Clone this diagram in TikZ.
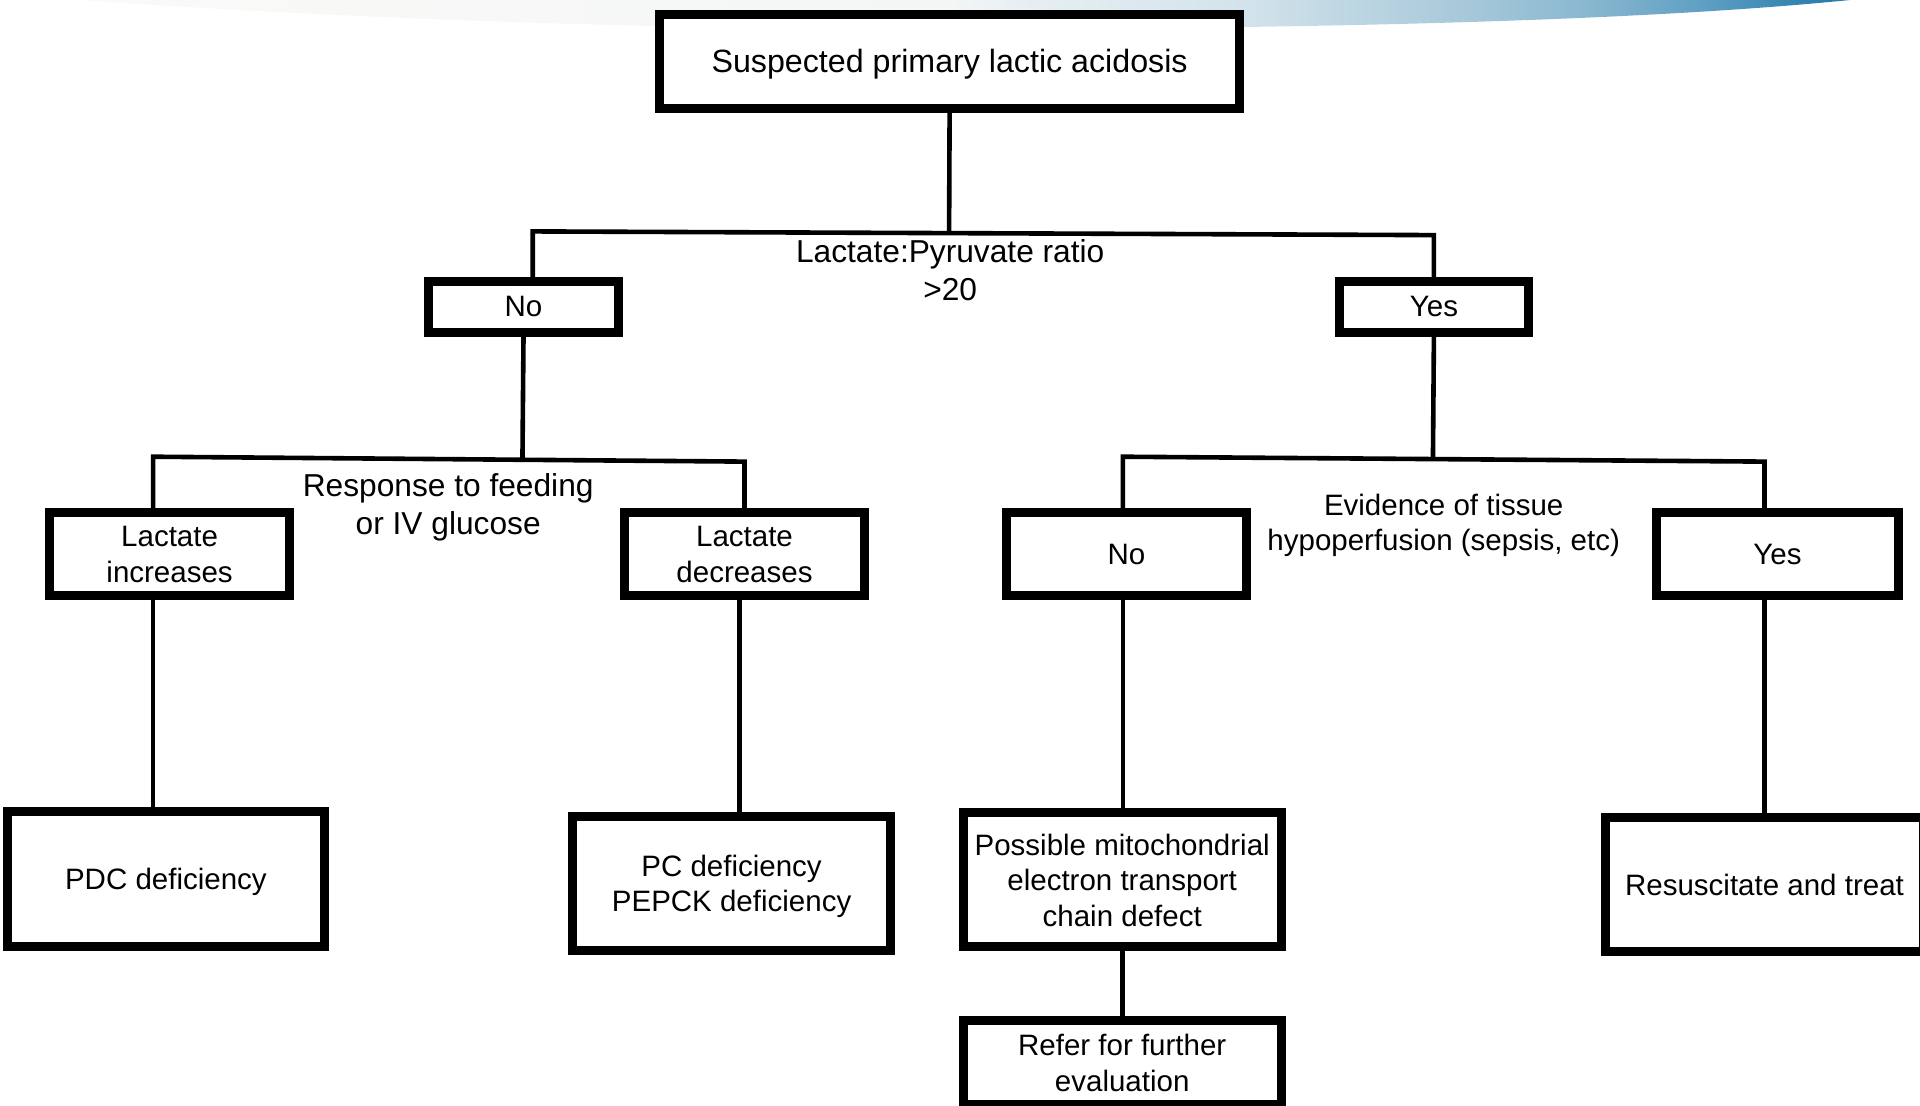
\documentclass[tikz,border=0pt]{standalone}
\usepackage{fontspec}
\setmainfont{Liberation Sans}
\usetikzlibrary{calc}
\definecolor{bA}{HTML}{FAFAF8}
\definecolor{bB}{HTML}{F4F6F6}
\definecolor{bC}{HTML}{E8EFF3}
\definecolor{bD}{HTML}{D3E3EB}
\definecolor{bE}{HTML}{A8C9DA}
\definecolor{bF}{HTML}{8AB8D0}
\definecolor{bG}{HTML}{5D9EC3}
\definecolor{bH}{HTML}{3384B0}
\definecolor{bI}{HTML}{2B7AA8}
\pgfdeclarehorizontalshading{band}{100bp}{color(0bp)=(bA); color(25bp)=(bA); color(49.5bp)=(bB); color(51.5bp)=(bC); color(57.9bp)=(bD); color(64bp)=(bE); color(67.5bp)=(bF); color(71bp)=(bG); color(73.5bp)=(bH); color(75bp)=(bI); color(100bp)=(bI)}
\begin{document}
\begin{tikzpicture}[x=0.5pt,y=-0.5pt,
  box/.style={draw, line width=4.5pt, inner sep=0pt, align=center, fill=white, text depth=0pt,
    font=\fontsize{14.75}{17.75}\selectfont},
  conn/.style={line width=2.3pt},
  lbl/.style={align=center, inner sep=0pt, text depth=0pt, font=\fontsize{15.85}{19}\selectfont},
  lblsmall/.style={align=center, inner sep=0pt, text depth=0pt, font=\fontsize{14.75}{17.75}\selectfont}]
\clip (0,0) rectangle (1920,1105);
\shade[shading=band] (78,-5) -- (78,0) .. controls (400,22) and (700,30) .. (1000,29)
  .. controls (1350,28) and (1650,20) .. (1850,0) -- (1850,-5) -- cycle;

% boxes
\node[box, minimum width=289.9pt, minimum height=46.9pt, font=\fontsize{16.1}{19}\selectfont] (top) at (949.6,61.2) {Suspected primary lactic acidosis};
\node[box, minimum width=95.25pt, minimum height=25.45pt] (no1) at (523.5,306.7) {No};
\node[box, minimum width=94.6pt, minimum height=25.45pt] (yes1) at (1433.9,306.7) {Yes};
\node[box, minimum width=119.7pt, minimum height=41.4pt] (inc) at (169.6,554.1) {Lactate\\increases};
\node[box, minimum width=120.4pt, minimum height=41.4pt] (dec) at (744.5,554.1) {Lactate\\decreases};
\node[box, minimum width=120.35pt, minimum height=41.4pt] (no2) at (1126.5,554.1) {No};
\node[box, minimum width=120.9pt, minimum height=41.4pt] (yes2) at (1777.4,554.1) {Yes};
\node[box, minimum width=158.9pt, minimum height=67.7pt] (pdc) at (165.9,879.2) {PDC deficiency};
\node[box, minimum width=158.9pt, minimum height=67.1pt] (pc) at (731.6,883.5) {PC deficiency\\PEPCK deficiency};
\node[box, minimum width=158.9pt, minimum height=67.1pt] (mito) at (1122.2,879.8) {Possible mitochondrial\\electron transport\\chain defect};
\node[box, minimum width=158.9pt, minimum height=67.1pt] (res) at (1764.5,884.7) {Resuscitate and treat};
\node[box, minimum width=158.9pt, minimum height=41.9pt] (ref) at (1122.2,1062.8) {Refer for further\\evaluation};

% labels
\node[lbl] (q1) at (950.2,270) {Lactate:Pyruvate ratio\\>20};
\node[lbl] (q2) at (448.2,503.9) {Response to feeding\\or IV glucose};
\node[lblsmall] (q3) at (1443.7,522.3) {Evidence of tissue\\hypoperfusion (sepsis, etc)};

% junction coordinates
\coordinate (a1) at (532.7,231.4);
\coordinate (a2) at (1433.9,235.1);
\coordinate (b1) at (153.1,456.7);
\coordinate (b2) at (744.5,461.6);
\coordinate (c1) at (1122.9,456.7);
\coordinate (c2) at (1764.5,461.6);

% connectors
\draw[conn] (top.south) -- ($(a1)!(top.south)!(a2)$);
\draw[conn] (a1 |- no1.north) -- (a1) -- (a2) -- (yes1.north);
\draw[conn] (no1.south) -- ($(b1)!(no1.south)!(b2)$);
\draw[conn] (b1 |- inc.north) -- (b1) -- (b2) -- (b2 |- dec.north);
\draw[conn] (yes1.south) -- ($(c1)!(yes1.south)!(c2)$);
\draw[conn] (c1 |- no2.north) -- (c1) -- (c2) -- (c2 |- yes2.north);
\draw[conn] (b1 |- inc.south) -- (b1 |- pdc.north);
\draw[conn] ($(dec.south)+(-5,0)$) -- ($(dec.south |- pc.north)+(-5,0)$);
\draw[conn] (c1 |- no2.south) -- (c1 |- mito.north);
\draw[conn] (c2 |- yes2.south) -- (c2 |- res.north);
\draw[conn] (mito.south) -- (ref.north);
\end{tikzpicture}
\end{document}
